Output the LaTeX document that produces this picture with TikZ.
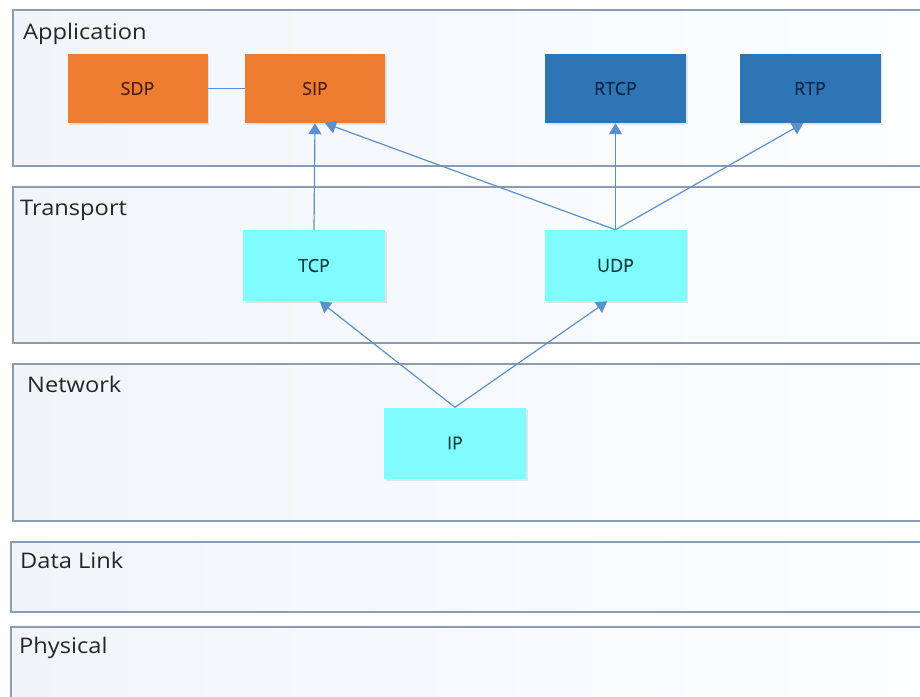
\documentclass[tikz,border=0pt]{standalone}
\usepackage{fontspec}
\setmainfont{Open Sans}
\newfontfamily\layerfont[FakeStretch=1.1]{Open Sans}
\newfontfamily\protofont[FakeBold=0.35]{Open Sans}
\usetikzlibrary{arrows.meta,shadows}

\definecolor{layerline}{HTML}{8A9BB4}
\definecolor{layerleft}{HTML}{F1F5FA}
\definecolor{layerright}{HTML}{FDFEFF}
\definecolor{sigorange}{HTML}{ED7D31}
\definecolor{mediablue}{HTML}{2E75B6}
\definecolor{transcyan}{HTML}{80FCFF}
\definecolor{linkblue}{HTML}{5B8FD0}
\definecolor{orangetext}{HTML}{4A1E0A}
\definecolor{bluetext}{HTML}{0D2445}
\definecolor{cyantext}{HTML}{0E3C3C}

\tikzset{
  layerbox/.style={draw=layerline, line width=1.3pt, left color=layerleft, right color=layerright},
  layername/.style={anchor=base west, inner sep=0pt, font=\layerfont\fontsize{21.5}{21.5}\selectfont, text=black!85},
  proto/.style={rectangle, inner sep=0pt, font=\protofont\fontsize{18}{18}\selectfont,
    drop shadow={opacity=0.18, shadow xshift=1.5pt, shadow yshift=-2pt}},
  sigbox/.style={proto, fill=sigorange, text=orangetext, minimum width=140pt, minimum height=69pt},
  mediabox/.style={proto, fill=mediablue, text=bluetext, minimum width=141pt, minimum height=69pt},
  transbox/.style={proto, fill=transcyan, text=cyantext, minimum width=142pt, minimum height=71pt},
  link/.style={draw=linkblue, line width=1.2pt},
  uplink/.style={link, -{Triangle[width=13pt,length=11pt]}},
}

\begin{document}
\begin{tikzpicture}[x=1pt,y=-1pt]
  \useasboundingbox (0,0) rectangle (920,696);
  \clip (0,0) rectangle (920,696);
  \fill[white] (0,0) rectangle (920,696);

  % protocol layers
  \draw[layerbox] (13,10)  rectangle (940,166);
  \draw[layerbox] (13,187) rectangle (940,343);
  \draw[layerbox] (13,364) rectangle (940,521);
  \draw[layerbox] (11,542) rectangle (940,612);
  \draw[layerbox] (11,627) rectangle (940,720);

  \node[layername] (lapp)  at (23,39)  {Application};
  \node[layername] (ltrn)  at (20,215) {Transport};
  \node[layername] (lnet)  at (27,392) {Network};
  \node[layername] (llink) at (20,568) {Data Link};
  \node[layername] (lphy)  at (19,653) {Physical};

  % protocols
  \node[sigbox]   (sdp)  at (137.5,88.5) {SDP};
  \node[sigbox]   (sip)  at (315,88.5)   {SIP};
  \node[mediabox] (rtcp) at (615.5,88.5) {RTCP};
  \node[mediabox] (rtp)  at (810,88.5)   {RTP};
  \node[transbox] (tcp)  at (314,265.5)  {TCP};
  \node[transbox] (udp)  at (615.5,265.5){UDP};
  \node[transbox] (ip)   at (455,443)    {IP};

  % relations
  \draw[link] (sdp.east) -- (sip.west);
  \draw[uplink] (tcp.north) -- (sip.south);
  \draw[uplink] (udp.north) -- (sip.-74);
  \draw[uplink] (udp.north) -- (rtcp.south);
  \draw[uplink] (udp.north) -- (rtp.-101);
  \draw[uplink] (ip.north) -- (tcp.-81);
  \draw[uplink] (ip.north) -- (udp.-103);
\end{tikzpicture}
\end{document}
